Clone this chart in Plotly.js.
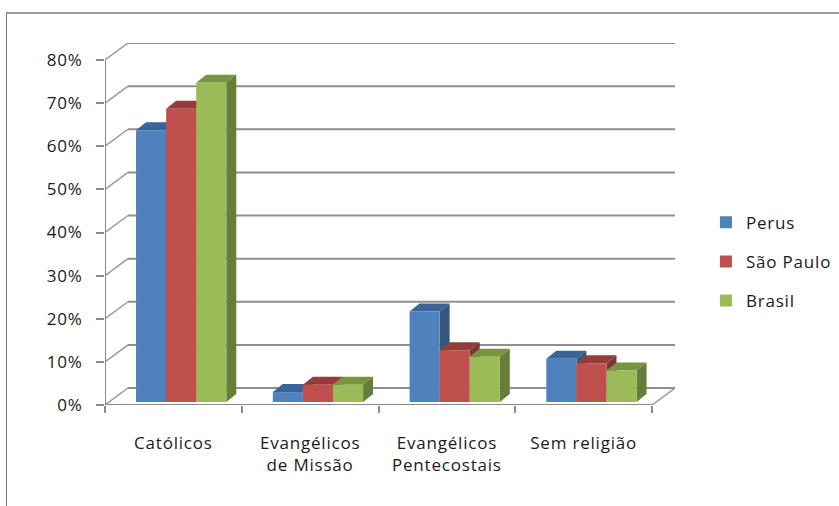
<!DOCTYPE html>
<html>
<head>
<meta charset="utf-8">
<script src="https://cdn.plot.ly/plotly-3.0.1.min.js"></script>
<style>
  html, body { margin: 0; padding: 0; background: #fff; }
  #wrap { position: relative; width: 839px; height: 506px; overflow: hidden; }
  #chart { position: absolute; left: 0; top: 0; width: 839px; height: 506px; }
  #chart text { letter-spacing: 0.8px; }
  #frame { position: absolute; left: 6px; top: 12px; width: 900px; height: 600px;
           border-top: 2px solid #9a9a9a; border-left: 1px solid #7a7a7a; pointer-events: none; }
</style>
</head>
<body>
<div id="wrap"><div id="chart"></div><div id="frame"></div></div>
<script>
// ---- data ----
const categories = ['Católicos', 'Evangélicos<br>de Missão', 'Evangélicos<br>Pentecostais', 'Sem religião'];
const seriesNames = ['Perus', 'São Paulo', 'Brasil'];
const perus    = [0.63, 0.023, 0.21, 0.10];
const saoPaulo = [0.68, 0.040, 0.12, 0.090];
const brasil   = [0.74, 0.040, 0.105, 0.073];
const yTickVals = [0, 0.1, 0.2, 0.3, 0.4, 0.5, 0.6, 0.7, 0.8];

// ---- styles ----
const seriesValues = [perus, saoPaulo, brasil];
const frontColors = ['#4F81BD', '#C0504D', '#9BBB59'];
const topColors   = ['#3B6397', '#943C39', '#789440'];
const sideColors  = ['#35577F', '#7E3431', '#677E3B'];
const barWidth = 0.22;
const barOffsets = [-0.273, -0.053, 0.167];
const catIdx = categories.map((_, i) => i);

// depth offsets (data units)
const dxW = 0.168, dyW = 0.0394;   // back wall
const dxB = 0.073, dyB = 0.0186;   // bar depth
const b0 = 0.007;                  // bars stand slightly behind the floor front edge

const traces = seriesNames.map((name, s) => ({
  type: 'bar',
  name: name,
  x: catIdx,
  y: seriesValues[s],
  base: b0,
  width: barWidth,
  offset: barOffsets[s],
  marker: { color: frontColors[s], line: { width: 0 } },
  legendgroup: 'g' + s,
  hoverinfo: 'skip'
}));

const gridColor = '#8f8f8f';
const shapes = [];
// back wall grid and left-side diagonals
yTickVals.forEach(v => {
  shapes.push({ type: 'line', xref: 'x', yref: 'y', layer: 'below',
    x0: -0.5 + dxW, x1: 3.5 + dxW, y0: v + dyW, y1: v + dyW,
    line: { color: gridColor, width: 2 } });
  shapes.push({ type: 'line', xref: 'x', yref: 'y', layer: 'below',
    x0: -0.5, x1: -0.5 + dxW, y0: v, y1: v + dyW,
    line: { color: '#9a9a9a', width: 1.5 } });
});
// floor right diagonal
shapes.push({ type: 'line', xref: 'x', yref: 'y', layer: 'below',
  x0: 3.5, x1: 3.5 + dxW, y0: 0, y1: dyW, line: { color: '#9a9a9a', width: 1.5 } });
// floor front edge
shapes.push({ type: 'line', xref: 'x', yref: 'y', layer: 'below',
  x0: -0.5, x1: 3.5, y0: 0, y1: 0, line: { color: '#8a8a8a', width: 2 } });
// front vertical axis
shapes.push({ type: 'line', xref: 'x', yref: 'y', layer: 'below',
  x0: -0.5, x1: -0.5, y0: 0, y1: 0.8, line: { color: '#8a8a8a', width: 2 } });

// bar top and side faces
catIdx.forEach(i => {
  seriesValues.forEach((vals, s) => {
    const v = vals[i] + b0;
    const x0 = i + barOffsets[s];
    const x1 = x0 + barWidth;
    shapes.push({ type: 'path', xref: 'x', yref: 'y', layer: 'below',
      path: `M${x0},${v} L${x0 + dxB},${v + dyB} L${x1 + dxB},${v + dyB} L${x1},${v} Z`,
      fillcolor: topColors[s], line: { width: 0 } });
    shapes.push({ type: 'path', xref: 'x', yref: 'y', layer: 'below',
      path: `M${x1},${b0} L${x1 + dxB},${b0 + dyB} L${x1 + dxB},${v + dyB} L${x1},${v} Z`,
      fillcolor: sideColors[s], line: { width: 0 } });
  });
});

const font = { family: 'Open Sans, sans-serif', size: 17, color: '#1a1a1a' };

const layout = {
  width: 839, height: 506,
  margin: { l: 105, r: 164, t: 43, b: 101, pad: 0, autoexpand: false },
  paper_bgcolor: 'rgba(0,0,0,0)',
  plot_bgcolor: 'rgba(0,0,0,0)',
  font: font,
  barmode: 'overlay',
  showlegend: true,
  legend: {
    xref: 'container', x: 0.8414, xanchor: 'left', y: 0.553, yanchor: 'top',
    font: font, traceorder: 'grouped', tracegroupgap: 14,
    bgcolor: 'rgba(0,0,0,0)', itemwidth: 30
  },
  xaxis: {
    type: 'linear',
    range: [-0.5, 3.5 + dxW],
    tickmode: 'array', tickvals: catIdx, ticktext: categories,
    ticks: '', ticklen: 0, showgrid: false, zeroline: false, showline: false,
    ticklabelstandoff: 26,
    minor: { tickmode: 'array', tickvals: [-0.5, 0.5, 1.5, 2.5, 3.5], ticks: 'outside',
             ticklen: 7, tickwidth: 2, tickcolor: '#8a8a8a', showgrid: false },
    fixedrange: true
  },
  yaxis: {
    range: [0, 0.8 + dyW],
    tickmode: 'array', tickvals: yTickVals, tickformat: '.0%',
    ticks: 'outside', ticklen: 8, tickwidth: 2, tickcolor: '#8a8a8a',
    ticklabelstandoff: 10,
    showgrid: false, zeroline: false, showline: false, fixedrange: true
  },
  shapes: shapes
};

Plotly.newPlot('chart', traces, layout, { staticPlot: true, displayModeBar: false });
</script>
</body>
</html>
